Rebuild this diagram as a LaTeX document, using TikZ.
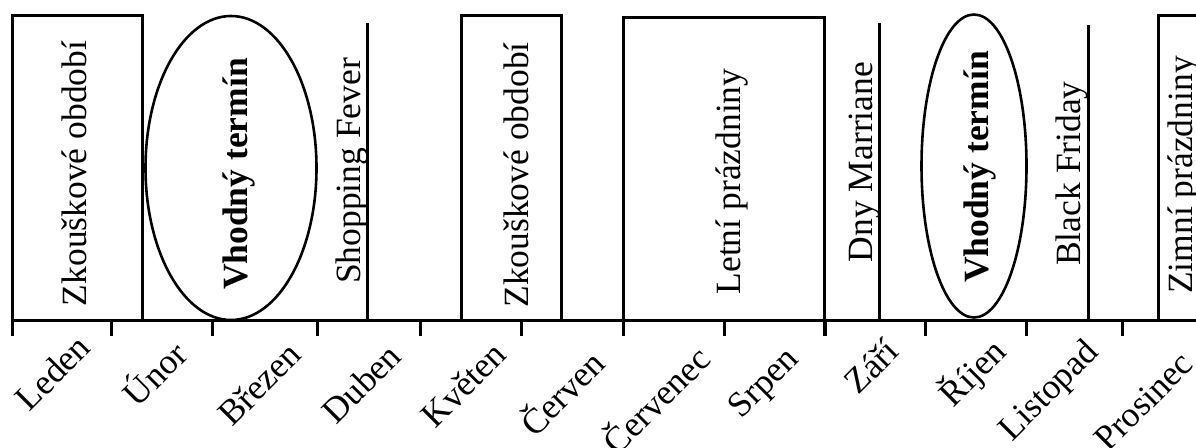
\documentclass[tikz,border=0pt]{standalone}
\usepackage{fontspec}
\setmainfont{Liberation Serif}
\begin{document}
\begin{tikzpicture}[x=1pt,y=-1pt,
  frame/.style={line width=3pt},
  oval/.style={line width=2.6pt},
  txt/.style={font=\fontsize{35.5}{40}\selectfont, inner sep=0pt},
  event/.style={txt, rotate=90, anchor=base},
  month/.style={txt, rotate=45, anchor=east}]
\clip (0,0) rectangle (1196,447);

% time axis and month ticks
\coordinate (a0) at (12,320.5);
\coordinate (a1) at (1215,320.5);
\draw[frame] (a0) -- (a1);
\foreach \x in {111,212.5,317,420,521.5,623.5,724,825,925,1026,1122}
  \draw[frame] (\x,320.5) -- (\x,336);

% periods drawn as boxes standing on the axis
\draw[frame] (12,336) -- (12,15.5) -- (142,15.5) -- (142,320.5);
\draw[frame] (461.5,320.5) |- (561.5,15.5) -- (561.5,320.5);
\draw[frame] (623.5,336) |- (824.5,17) -- (824.5,336);
\draw[frame] (1158.5,320.5) |- (1230,15.5);

% single-day events drawn as lines
\draw[frame] (367.3,320.5) -- (367.3,22.7);
\draw[frame] (879.3,320.5) -- (879.3,22.7);
\draw[frame] (1088.3,320.5) -- (1088.3,25);

% suitable periods
\draw[oval] (231,168) ellipse [x radius=85.5pt, y radius=152pt];
\draw[oval] (974,166) ellipse [x radius=52.5pt, y radius=151.5pt];

% labels of periods and events
\node[event] (zk1) at (86,173.5) {Zkouškové období};
\node[event, font=\fontsize{35.5}{40}\selectfont\bfseries] (vt1) at (247,174) {Vhodný termín};
\node[event] (sf) at (360,171) {Shopping Fever};
\node[event] (zk2) at (528,175) {Zkouškové období};
\node[event] (lp) at (740,181.5) {Letní prázdniny};
\node[event] (dm) at (872,162) {Dny Marriane};
\node[event, font=\fontsize{35.5}{40}\selectfont\bfseries] (vt2) at (988,167) {Vhodný termín};
\node[event] (bf) at (1080,173.5) {Black Friday};
\node[event] (zp) at (1192,175) {Zimní prázdniny};

% month names
\node[month] (m1) at (84,341) {Leden};
\node[month] (m2) at (179,346) {Únor};
\node[month] (m3) at (295,348) {Březen};
\node[month] (m4) at (395,350) {Duben};
\node[month] (m5) at (500,348) {Květen};
\node[month] (m6) at (597,355) {Červen};
\node[month] (m7) at (702,351) {Červenec};
\node[month] (m8) at (795,355) {Srpen};
\node[month] (m9) at (892,345) {Září};
\node[month] (m10) at (1000,346) {Říjen};
\node[month] (m11) at (1094,348) {Listopad};
\node[month] (m12) at (1187,358) {Prosinec};
\end{tikzpicture}
\end{document}
